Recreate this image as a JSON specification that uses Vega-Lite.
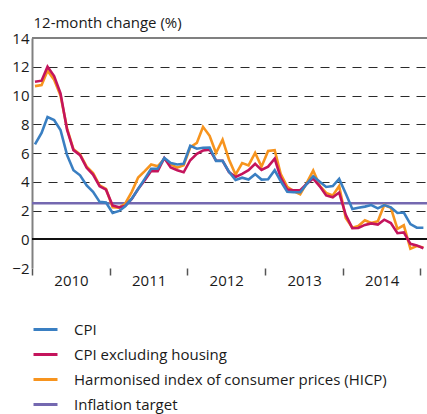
{
  "$schema": "https://vega.github.io/schema/vega-lite/v6.json",
  "width": 395,
  "height": 230,
  "autosize": {"type": "none"},
  "padding": {"left": 32, "top": 38, "right": 0, "bottom": 146},
  "background": "white",
  "config": {
    "view": {"stroke": null},
    "font": "Open Sans",
    "axis": {"labelFont": "Open Sans", "titleFont": "Open Sans", "labelColor": "#1a1a1a", "titleColor": "#1a1a1a"},
    "legend": {"labelFont": "Open Sans"}
  },
  "data": {
    "values": [
      {"date": "2010-01-01", "target": 2.5},
      {"date": "2015-02-01", "target": 2.5},
      {"date": "2010-01-15", "cpi": 6.6, "cpix": 10.95, "hicp": 10.65},
      {"date": "2010-02-15", "cpi": 7.4, "cpix": 11.03, "hicp": 10.72},
      {"date": "2010-03-15", "cpi": 8.5, "cpix": 12.0, "hicp": 11.72},
      {"date": "2010-04-15", "cpi": 8.3, "cpix": 11.35, "hicp": 11.1},
      {"date": "2010-05-15", "cpi": 7.6, "cpix": 10.15, "hicp": 10.0},
      {"date": "2010-06-15", "cpi": 5.85, "cpix": 7.6, "hicp": 7.7},
      {"date": "2010-07-15", "cpi": 4.8, "cpix": 6.2, "hicp": 6.25},
      {"date": "2010-08-15", "cpi": 4.45, "cpix": 5.85, "hicp": 5.9},
      {"date": "2010-09-15", "cpi": 3.75, "cpix": 4.97, "hicp": 5.05},
      {"date": "2010-10-15", "cpi": 3.3, "cpix": 4.5, "hicp": 4.6},
      {"date": "2010-11-15", "cpi": 2.6, "cpix": 3.68, "hicp": 3.75},
      {"date": "2010-12-15", "cpi": 2.55, "cpix": 3.45, "hicp": 3.5},
      {"date": "2011-01-15", "cpi": 1.83, "cpix": 2.35, "hicp": 2.22},
      {"date": "2011-02-15", "cpi": 1.97, "cpix": 2.22, "hicp": 2.2},
      {"date": "2011-03-15", "cpi": 2.3, "cpix": 2.32, "hicp": 2.47},
      {"date": "2011-04-15", "cpi": 2.82, "cpix": 2.8, "hicp": 3.3},
      {"date": "2011-05-15", "cpi": 3.5, "cpix": 3.5, "hicp": 4.3},
      {"date": "2011-06-15", "cpi": 4.2, "cpix": 4.1, "hicp": 4.74},
      {"date": "2011-07-15", "cpi": 4.9, "cpix": 4.74, "hicp": 5.2},
      {"date": "2011-08-15", "cpi": 4.9, "cpix": 4.74, "hicp": 5.07},
      {"date": "2011-09-15", "cpi": 5.65, "cpix": 5.65, "hicp": 5.6},
      {"date": "2011-10-15", "cpi": 5.3, "cpix": 5.0, "hicp": 5.2},
      {"date": "2011-11-15", "cpi": 5.2, "cpix": 4.8, "hicp": 4.98},
      {"date": "2011-12-15", "cpi": 5.25, "cpix": 4.66, "hicp": 5.15},
      {"date": "2012-01-15", "cpi": 6.5, "cpix": 5.5, "hicp": 6.4},
      {"date": "2012-02-15", "cpi": 6.3, "cpix": 5.94, "hicp": 6.7},
      {"date": "2012-03-15", "cpi": 6.36, "cpix": 6.17, "hicp": 7.82},
      {"date": "2012-04-15", "cpi": 6.38, "cpix": 6.23, "hicp": 7.2},
      {"date": "2012-05-15", "cpi": 5.45, "cpix": 5.48, "hicp": 6.0},
      {"date": "2012-06-15", "cpi": 5.45, "cpix": 5.46, "hicp": 6.93},
      {"date": "2012-07-15", "cpi": 4.7, "cpix": 4.67, "hicp": 5.55},
      {"date": "2012-08-15", "cpi": 4.12, "cpix": 4.33, "hicp": 4.5},
      {"date": "2012-09-15", "cpi": 4.28, "cpix": 4.55, "hicp": 5.3},
      {"date": "2012-10-15", "cpi": 4.15, "cpix": 4.8, "hicp": 5.14},
      {"date": "2012-11-15", "cpi": 4.53, "cpix": 5.25, "hicp": 6.0},
      {"date": "2012-12-15", "cpi": 4.15, "cpix": 4.82, "hicp": 5.05},
      {"date": "2013-01-15", "cpi": 4.17, "cpix": 5.05, "hicp": 6.14},
      {"date": "2013-02-15", "cpi": 4.8, "cpix": 5.6, "hicp": 6.2},
      {"date": "2013-03-15", "cpi": 4.05, "cpix": 4.3, "hicp": 4.55},
      {"date": "2013-04-15", "cpi": 3.3, "cpix": 3.45, "hicp": 3.64},
      {"date": "2013-05-15", "cpi": 3.27, "cpix": 3.41, "hicp": 3.35},
      {"date": "2013-06-15", "cpi": 3.27, "cpix": 3.41, "hicp": 3.12},
      {"date": "2013-07-15", "cpi": 3.83, "cpix": 3.85, "hicp": 3.9},
      {"date": "2013-08-15", "cpi": 4.38, "cpix": 4.22, "hicp": 4.78},
      {"date": "2013-09-15", "cpi": 4.0, "cpix": 3.68, "hicp": 3.72},
      {"date": "2013-10-15", "cpi": 3.64, "cpix": 3.05, "hicp": 3.22},
      {"date": "2013-11-15", "cpi": 3.7, "cpix": 2.92, "hicp": 3.05},
      {"date": "2013-12-15", "cpi": 4.2, "cpix": 3.25, "hicp": 3.7},
      {"date": "2014-01-15", "cpi": 3.18, "cpix": 1.7, "hicp": 1.48},
      {"date": "2014-02-15", "cpi": 2.1, "cpix": 0.77, "hicp": 0.8},
      {"date": "2014-03-15", "cpi": 2.19, "cpix": 0.78, "hicp": 0.92},
      {"date": "2014-04-15", "cpi": 2.27, "cpix": 1.0, "hicp": 1.32},
      {"date": "2014-05-15", "cpi": 2.38, "cpix": 1.1, "hicp": 1.13},
      {"date": "2014-06-15", "cpi": 2.15, "cpix": 1.02, "hicp": 1.25},
      {"date": "2014-07-15", "cpi": 2.38, "cpix": 1.36, "hicp": 2.38},
      {"date": "2014-08-15", "cpi": 2.22, "cpix": 1.13, "hicp": 2.18},
      {"date": "2014-09-15", "cpi": 1.83, "cpix": 0.42, "hicp": 0.72},
      {"date": "2014-10-15", "cpi": 1.86, "cpix": 0.48, "hicp": 0.97},
      {"date": "2014-11-15", "cpi": 1.05, "cpix": -0.32, "hicp": -0.66},
      {"date": "2014-12-15", "cpi": 0.8, "cpix": -0.43, "hicp": -0.47},
      {"date": "2015-01-15", "cpi": 0.8, "cpix": -0.63, "hicp": -0.58}
    ]
  },
  "layer": [
    {
      "mark": {"type": "rule", "color": "#808080", "strokeWidth": 2},
      "encoding": {
        "y": {
          "datum": 14, "type": "quantitative",
          "scale": {"domain": [-2, 14], "nice": false, "zero": false},
          "axis": {
            "values": [-2, 0, 2, 4, 6, 8, 10, 12, 14],
            "tickCount": 20,
            "title": "12-month change (%)",
            "titleAngle": 0,
            "titleAlign": "left",
            "titleBaseline": "alphabetic",
            "titleX": 1,
            "titleY": -11,
            "titleFontSize": 15,
            "titleFontWeight": "normal",
            "labelFontSize": 15,
            "labelPadding": 3,
            "labelOverlap": false,
            "labelFlush": false,
            "labelBound": false,
            "ticks": false,
            "domainColor": "#808080",
            "domainWidth": 2,
            "grid": true,
            "gridDash": [9, 7],
            "gridColor": "#2a2a2a",
            "gridWidth": 1.2,
            "gridOpacity": {"condition": {"test": "datum.value == 0 || datum.value == 14 || datum.value == -2", "value": 0}, "value": 1}
          }
        }
      }
    },
    {
      "mark": {"type": "rule", "color": "#111111", "strokeWidth": 1.3},
      "encoding": {"y": {"datum": 0, "type": "quantitative"}}
    },
    {
      "transform": [
        {"fold": ["target", "hicp", "cpix", "cpi"], "as": ["series", "value"]},
        {"filter": "isValid(datum.value)"}
      ],
      "mark": {"type": "line", "strokeWidth": 2.6, "strokeJoin": "miter", "clip": true},
      "encoding": {
        "x": {
          "field": "date", "type": "temporal",
          "scale": {"type": "utc", "domain": [{"year": 2010, "month": 1, "date": 1, "utc": true}, {"year": 2015, "month": 2, "date": 1, "utc": true}]},
          "axis": {
            "title": null,
            "domain": false,
            "grid": false,
            "tickCount": 20,
            "values": [
              {"year": 2010, "month": 1, "date": 1, "utc": true},
              {"year": 2011, "month": 1, "date": 1, "utc": true},
              {"year": 2012, "month": 1, "date": 1, "utc": true},
              {"year": 2013, "month": 1, "date": 1, "utc": true},
              {"year": 2014, "month": 1, "date": 1, "utc": true},
              {"year": 2015, "month": 1, "date": 1, "utc": true}
            ],
            "labelExpr": "utcyear(datum.value) == 2015 ? '' : utcFormat(datum.value, '%Y')",
            "labelOffset": 39,
            "labelAlign": "center",
            "labelOverlap": false,
            "labelBound": false,
            "labelFlush": false,
            "labelFontSize": 15,
            "labelPadding": -2,
            "tickSize": 7,
            "tickColor": "#555555",
            "tickWidth": 1.5
          }
        },
        "y": {
          "field": "value", "type": "quantitative",
          "scale": {"domain": [-2, 14], "nice": false, "zero": false}
        },
        "color": {
          "field": "series", "type": "nominal",
          "scale": {"domain": ["cpi", "cpix", "hicp", "target"], "range": ["#3a7fc2", "#c4145c", "#f7941e", "#7468b0"]},
          "legend": {
            "orient": "none",
            "legendX": 0,
            "legendY": 278,
            "title": null,
            "padding": 0,
            "symbolType": "stroke",
            "symbolSize": 576,
            "symbolStrokeWidth": 3,
            "labelFontSize": 15,
            "labelColor": "#1a1a1a",
            "labelOffset": 15,
            "labelLimit": 400,
            "rowPadding": 3,
            "labelExpr": "{'cpi': 'CPI', 'cpix': 'CPI excluding housing', 'hicp': 'Harmonised index of consumer prices (HICP)', 'target': 'Inflation target'}[datum.label]"
          }
        }
      }
    }
  ]
}
